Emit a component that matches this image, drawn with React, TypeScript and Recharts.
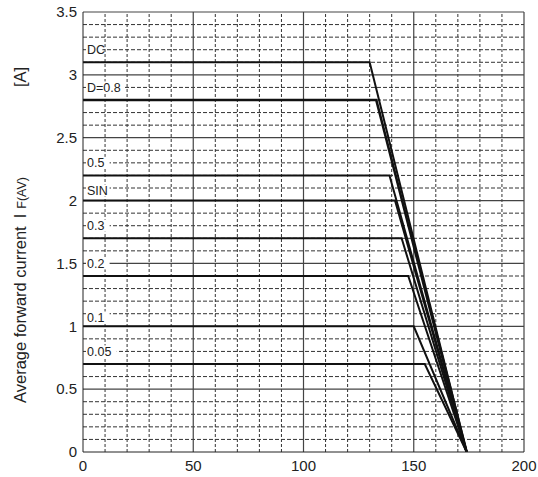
import React from "react";
import { LineChart, Line, XAxis, YAxis, ReferenceLine, Customized } from "recharts";

const seriesNames = ["DC", "D=0.8", "0.5", "SIN", "0.3", "0.2", "0.1", "0.05"];
const levels = [3.1, 2.8, 2.2, 2.0, 1.7, 1.4, 1.0, 0.7];
const kneeTemps = [130, 133, 139, 141.5, 144.5, 147.5, 150, 155];
const endTemp = 174;
const labelLevels = [3.2, 2.9, 2.3, 2.08, 1.8, 1.5, 1.07, 0.8];

const xTicks = [0, 50, 100, 150, 200];
const yTicks = [0, 0.5, 1, 1.5, 2, 2.5, 3, 3.5];
const minorX = [10, 20, 30, 40, 60, 70, 80, 90, 110, 120, 130, 140, 160, 170, 180, 190];
const minorY = [0.1, 0.2, 0.3, 0.4, 0.6, 0.7, 0.8, 0.9, 1.1, 1.2, 1.3, 1.4, 1.6, 1.7, 1.8, 1.9, 2.1, 2.2, 2.3, 2.4, 2.6, 2.7, 2.8, 2.9, 3.1, 3.2, 3.3, 3.4];
const majorX = [50, 100, 150];
const majorY = [0.5, 1, 1.5, 2, 2.5, 3];

const curves = seriesNames.map((name, i) => ({
  name,
  data: [
    { x: 0, y: levels[i] },
    { x: kneeTemps[i], y: levels[i] },
    { x: endTemp, y: 0 },
  ],
}));

const labelData = seriesNames.map((name, i) => ({ x: 0, y: labelLevels[i], name }));

const FONT = "'Liberation Sans', Arial, sans-serif";

const YLabel = () => (
  <text
    transform="translate(26,403) rotate(-90)"
    textAnchor="start"
    fontFamily={FONT}
    fontSize={16.5}
    fill="#222"
  >
    <tspan>Average forward current</tspan>
    <tspan dx={8}>I</tspan>
    <tspan fontSize={12.5} dx={5}>F(AV)</tspan>
    <tspan dx={90}>[A]</tspan>
  </text>
);

const renderLabel = (p: any) => {
  const name = p.payload ? p.payload.name : "";
  const x0 = p.cx;
  const y = p.cy;
  const w = name.length * 7.2 + 2;
  return (
    <g key={"lbl" + name}>
      <rect x={x0 + 3} y={y - 6} width={w} height={12} fill="#fff" />
      <text x={x0 + 4} y={y + 4.5} fontFamily={FONT} fontSize={12.5} fill="#222">
        {name}
      </text>
    </g>
  );
};

export default function App() {
  return (
    <div style={{ position: "absolute", left: 0, top: 0, background: "#fff" }}>
      <LineChart width={538} height={477} margin={{ top: 12, right: 14, bottom: 0, left: 0 }}>
        <XAxis
          type="number"
          dataKey="x"
          domain={[0, 200]}
          ticks={xTicks}
          allowDataOverflow
          tickLine={false}
          axisLine={{ stroke: "#222" }}
          tickSize={6}
          tickMargin={2}
          height={25}
          tick={{ fontFamily: FONT, fontSize: 15, fill: "#222" }}
        />
        <YAxis
          type="number"
          dataKey="y"
          domain={[0, 3.5]}
          ticks={yTicks}
          allowDataOverflow
          tickLine={false}
          axisLine={{ stroke: "#222" }}
          tickSize={6}
          tickMargin={0}
          width={83}
          tick={{ fontFamily: FONT, fontSize: 15, fill: "#222" }}
        />
        {minorX.map((v) => (
          <ReferenceLine key={"mx" + v} x={v} stroke="#333" strokeDasharray="3 2" strokeWidth={1} />
        ))}
        {minorY.map((v) => (
          <ReferenceLine key={"my" + v} y={v} stroke="#333" strokeDasharray="4 2" strokeWidth={1} />
        ))}
        {majorX.map((v) => (
          <ReferenceLine key={"Mx" + v} x={v} stroke="#444" strokeWidth={1.2} />
        ))}
        {majorY.map((v) => (
          <ReferenceLine key={"My" + v} y={v} stroke="#444" strokeWidth={1.2} />
        ))}
        <ReferenceLine x={200} stroke="#444" strokeWidth={1.2} />
        <ReferenceLine y={3.5} stroke="#444" strokeWidth={1.2} />
        {curves.map((c, i) => (
          <Line
            key={c.name}
            data={c.data}
            dataKey="y"
            type="linear"
            stroke="#111"
            strokeWidth={i === 1 ? 2.6 : 2}
            dot={false}
            activeDot={false}
            isAnimationActive={false}
            legendType="none"
          />
        ))}
        <Line
          data={labelData}
          dataKey="y"
          stroke="none"
          dot={renderLabel}
          activeDot={false}
          isAnimationActive={false}
          legendType="none"
        />
        <Customized component={YLabel} />
      </LineChart>
    </div>
  );
}
